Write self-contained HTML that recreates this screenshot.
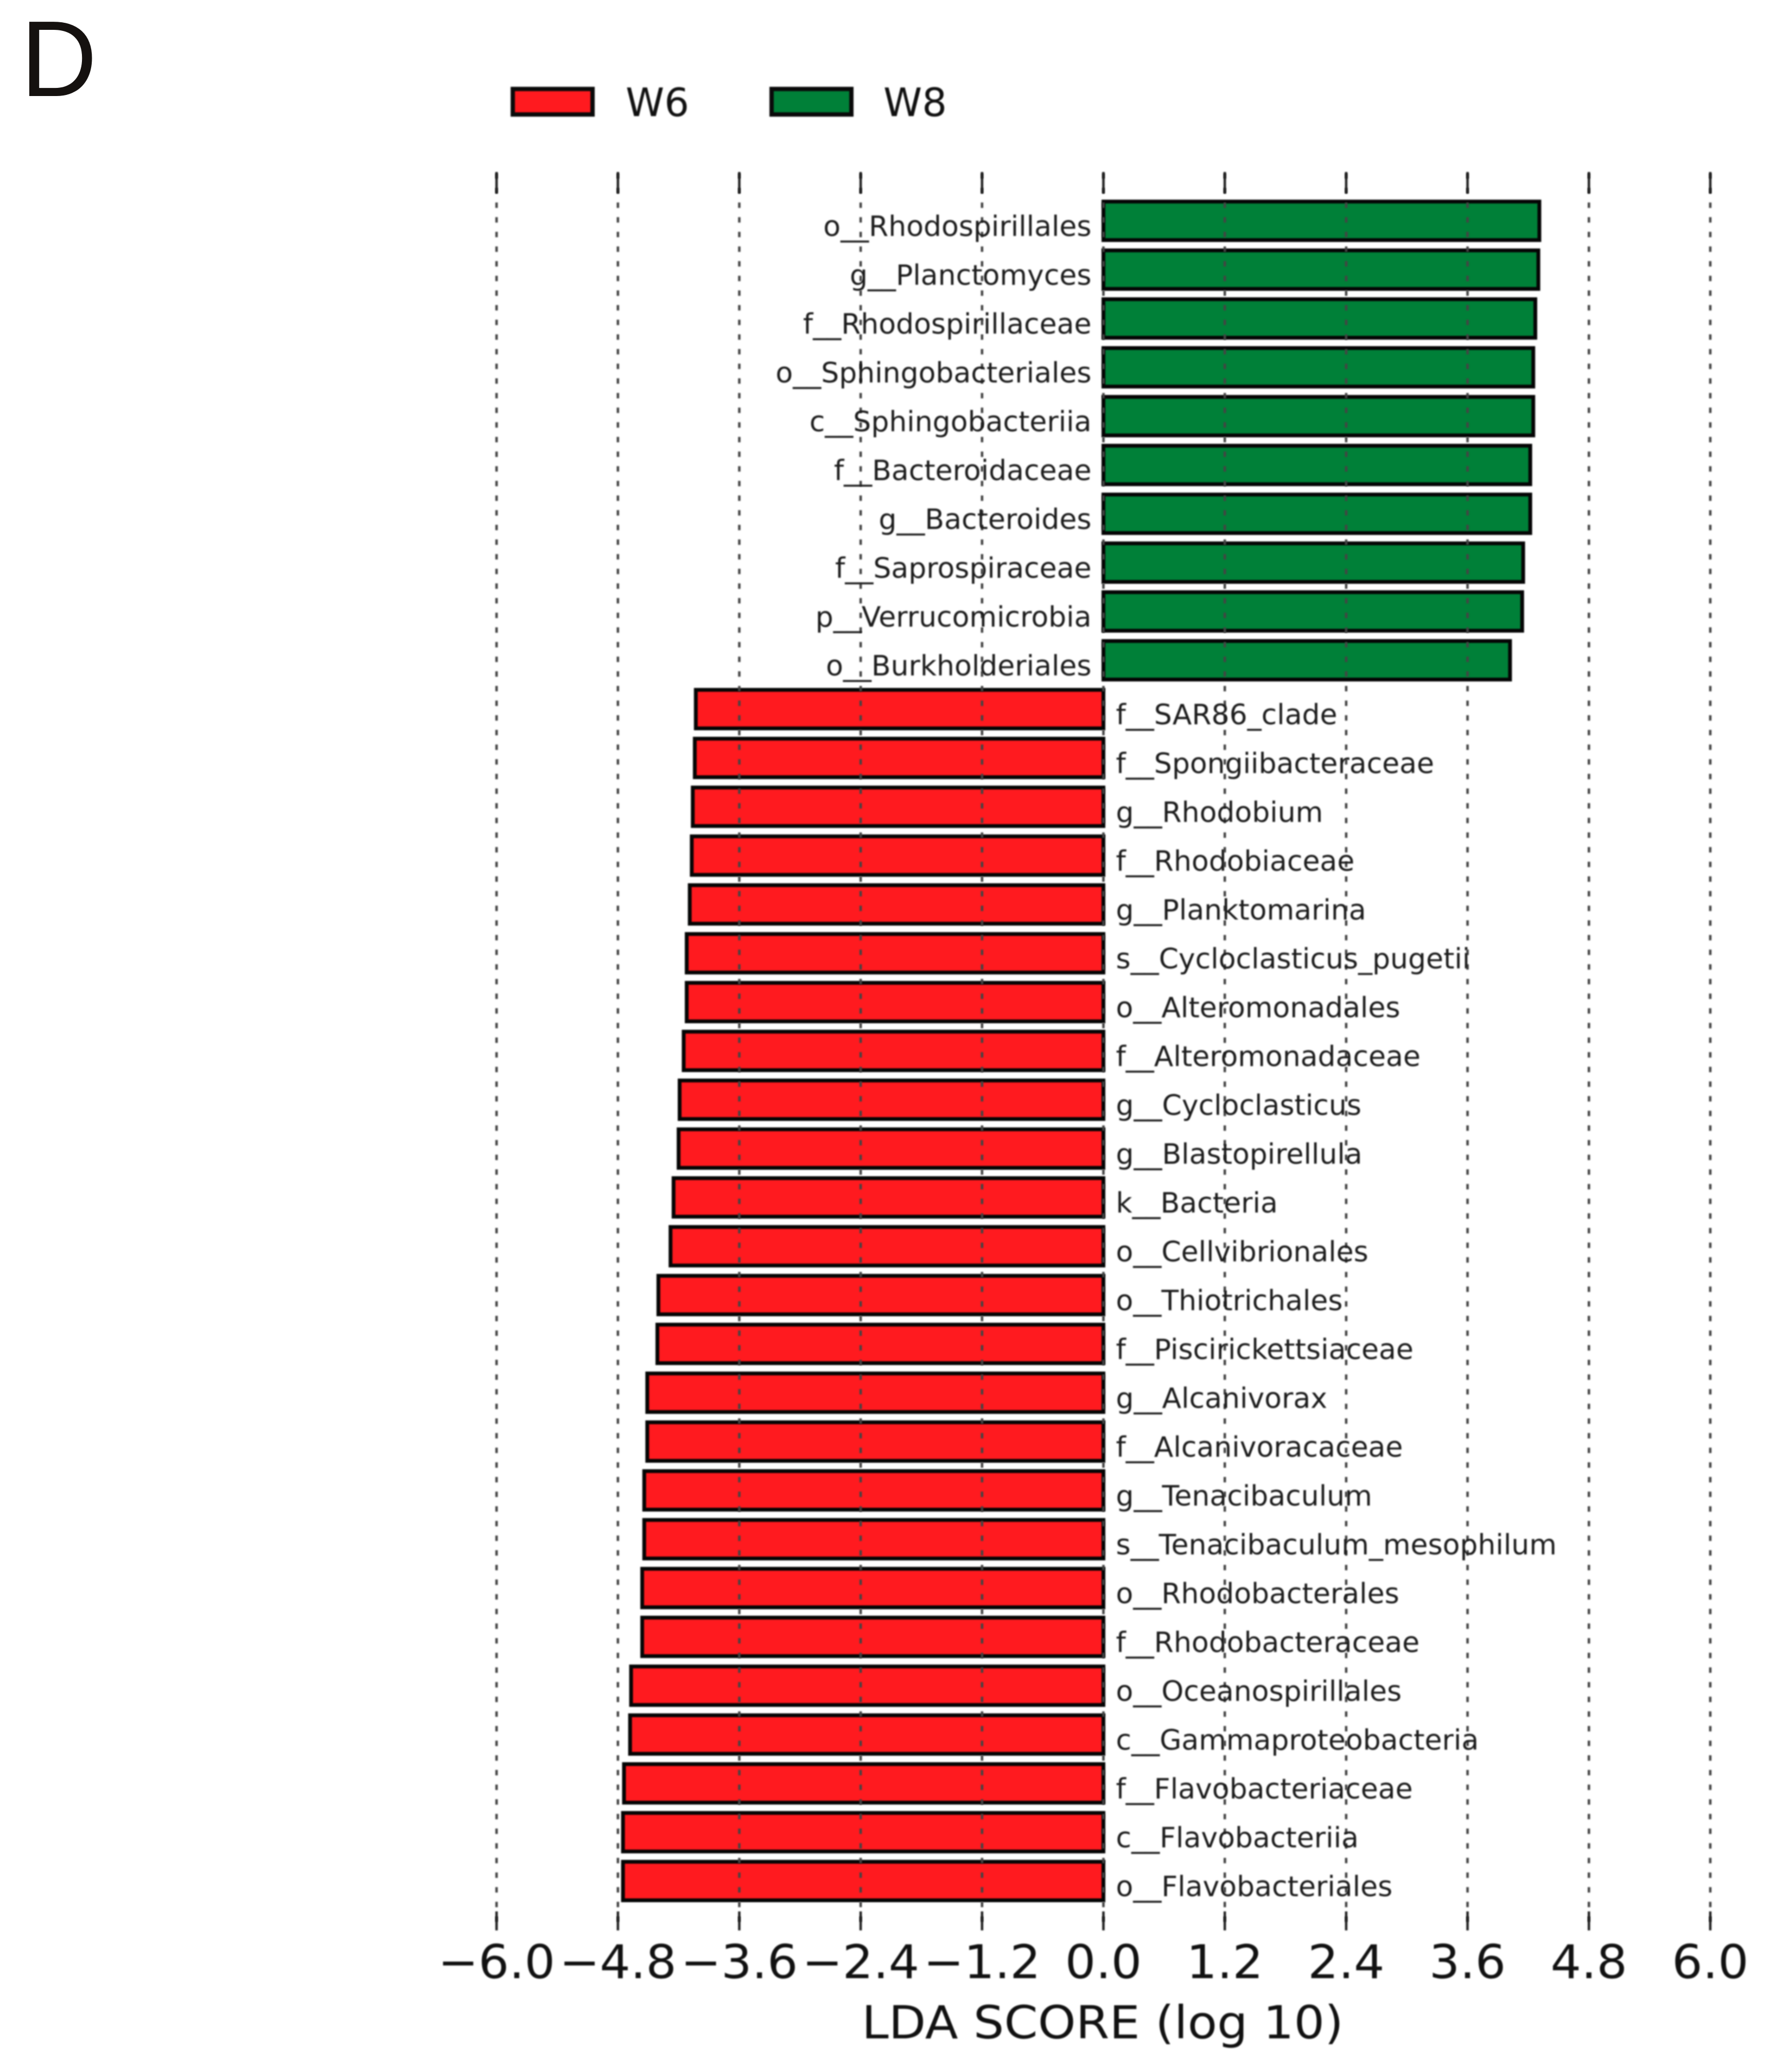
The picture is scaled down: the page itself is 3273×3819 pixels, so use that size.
<!DOCTYPE html>
<html lang="en">
<head>
<meta charset="utf-8">
<title>LDA score chart</title>
<style>
html,body{margin:0;padding:0;background:#fff;width:3273px;height:3819px;overflow:hidden}
svg{display:block}
text{font-family:"DejaVu Sans","Liberation Sans",sans-serif;fill:#111}
.soft{filter:blur(1.3px)}
</style>
</head>
<body>
<svg id="chart" xmlns="http://www.w3.org/2000/svg" width="3273" height="3819" viewBox="0 0 3273 3819">
  <rect x="0" y="0" width="3273" height="3819" fill="#ffffff"/>
  <text transform="translate(38,177) scale(0.98,1)" x="0" y="0" font-size="199" style="font-family:'Liberation Sans',sans-serif;fill:#15110f">D</text>
  <g class="soft">
    <g>
      <rect x="945" y="164" width="147" height="47" fill="#ff1a1f" stroke="#0a0a0a" stroke-width="8"/>
      <text x="1153" y="214" font-size="72">W6</text>
    </g>
    <g>
      <rect x="1422" y="164" width="147" height="47" fill="#008038" stroke="#0a0a0a" stroke-width="8"/>
      <text x="1628" y="214" font-size="72">W8</text>
    </g>
  </g>
  <g id="bars" class="soft"></g>
  <g id="grid" class="soft"></g>
  <g id="labels" class="soft"></g>
  <g id="ticks" class="soft"></g>
  <text class="soft" transform="translate(2032,3757) scale(1.06,1)" x="0" y="0" font-size="84" text-anchor="middle">LDA SCORE (log 10)</text>
</svg>
<script>
const taxa = ["o__Rhodospirillales","g__Planctomyces","f__Rhodospirillaceae","o__Sphingobacteriales","c__Sphingobacteriia","f__Bacteroidaceae","g__Bacteroides","f__Saprospiraceae","p__Verrucomicrobia","o__Burkholderiales","f__SAR86_clade","f__Spongiibacteraceae","g__Rhodobium","f__Rhodobiaceae","g__Planktomarina","s__Cycloclasticus_pugetii","o__Alteromonadales","f__Alteromonadaceae","g__Cycloclasticus","g__Blastopirellula","k__Bacteria","o__Cellvibrionales","o__Thiotrichales","f__Piscirickettsiaceae","g__Alcanivorax","f__Alcanivoracaceae","g__Tenacibaculum","s__Tenacibaculum_mesophilum","o__Rhodobacterales","f__Rhodobacteraceae","o__Oceanospirillales","c__Gammaproteobacteria","f__Flavobacteriaceae","c__Flavobacteriia","o__Flavobacteriales"];
const ldaScores = [4.31,4.30,4.27,4.25,4.25,4.22,4.22,4.15,4.14,4.02,-4.03,-4.04,-4.06,-4.07,-4.09,-4.12,-4.12,-4.15,-4.19,-4.20,-4.25,-4.28,-4.40,-4.41,-4.51,-4.51,-4.54,-4.54,-4.56,-4.56,-4.67,-4.68,-4.74,-4.75,-4.75];
const tickValues = [-6.0,-4.8,-3.6,-2.4,-1.2,0.0,1.2,2.4,3.6,4.8,6.0];
const tickLabels = ["\u22126.0","\u22124.8","\u22123.6","\u22122.4","\u22121.2","0.0","1.2","2.4","3.6","4.8","6.0"];

const SVGNS = "http://www.w3.org/2000/svg";
function xScale(v){ return 2033.5 + v * 186.4; }
function rowY(i){ return 407 + i * 90; }
function make(tag, parent){
  const el = document.createElementNS(SVGNS, tag);
  parent.appendChild(el);
  return el;
}
const barsG = document.getElementById("bars");
const gridG = document.getElementById("grid");
const labelsG = document.getElementById("labels");
const ticksG = document.getElementById("ticks");
const gridTop = 317, gridBottom = 3558;

taxa.forEach(function(name, i){
  const v = ldaScores[i];
  const x0 = xScale(0), x1 = xScale(v);
  const bar = make("rect", barsG);
  
  
  bar.setAttribute("x", Math.min(x0, x1));
  bar.setAttribute("y", rowY(i) - 35.5);
  bar.setAttribute("width", Math.abs(x1 - x0));
  bar.setAttribute("height", 71);
  bar.setAttribute("fill", v > 0 ? "#008038" : "#ff1a1f");
  bar.setAttribute("stroke", "#050505");
  bar.setAttribute("stroke-width", 7);

  const t = make("text", labelsG);
  
  
  t.textContent = name;
  t.setAttribute("font-size", 52);
  t.setAttribute("y", rowY(i) + 28);
  t.style.fill = "#1c1c1c";
  if (v > 0) {
    t.setAttribute("x", x0 - 22);
    t.setAttribute("text-anchor", "end");
  } else {
    t.setAttribute("x", x0 + 23);
    t.setAttribute("text-anchor", "start");
  }
});

tickValues.forEach(function(v, i){
  const x = xScale(v);
  const g = make("line", gridG);
  
  
  g.setAttribute("x1", x); g.setAttribute("x2", x);
  g.setAttribute("y1", gridTop); g.setAttribute("y2", gridBottom);
  g.setAttribute("stroke", "#444");
  g.setAttribute("stroke-width", 4.5);
  g.setAttribute("stroke-dasharray", "10 17");
  g.setAttribute("stroke-dashoffset", "-2.3");

  const topTick = make("line", ticksG);
  
  
  topTick.setAttribute("x1", x); topTick.setAttribute("x2", x);
  topTick.setAttribute("y1", gridTop); topTick.setAttribute("y2", gridTop + 40);
  topTick.setAttribute("stroke", "#222");
  topTick.setAttribute("stroke-width", 4.5);

  const botTick = make("line", ticksG);
  
  
  botTick.setAttribute("x1", x); botTick.setAttribute("x2", x);
  botTick.setAttribute("y1", gridBottom - 35); botTick.setAttribute("y2", gridBottom);
  botTick.setAttribute("stroke", "#222");
  botTick.setAttribute("stroke-width", 4.5);

  const lab = make("text", ticksG);
  
  
  lab.textContent = tickLabels[i];
  lab.setAttribute("transform", "translate(" + x + ",3646) scale(1.035,1)");
  lab.setAttribute("x", 0);
  lab.setAttribute("y", 0);
  lab.setAttribute("font-size", 86);
  lab.setAttribute("text-anchor", "middle");
});
</script>
</body>
</html>
